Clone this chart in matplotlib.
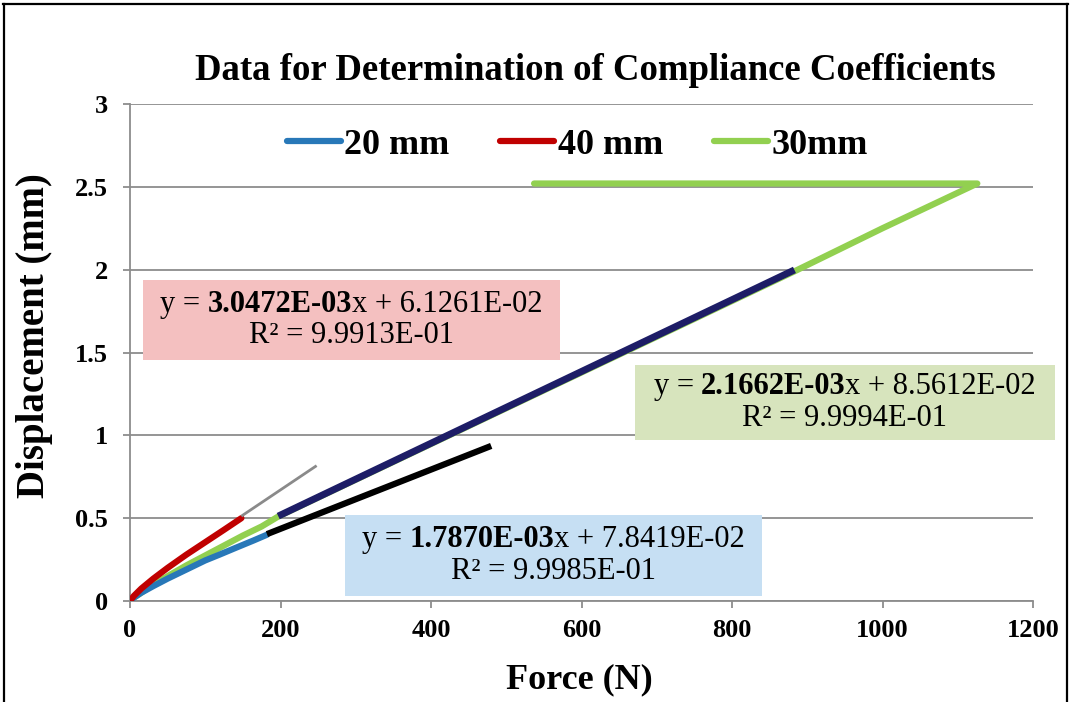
#!/usr/bin/env python3
"""Compliance coefficient data: displacement vs force with linear trendlines."""

import matplotlib
matplotlib.use('Agg')
import matplotlib.pyplot as plt
from matplotlib.lines import Line2D
from matplotlib.patches import Rectangle
from matplotlib.offsetbox import TextArea, HPacker, VPacker, AnnotationBbox
import numpy as np

plt.rcParams['font.family'] = ['Liberation Serif', 'DejaVu Serif']

# measured curves (force in N, displacement in mm)
force_20 = [0, 5, 15, 31, 50, 75, 100, 119, 140, 164, 182]
disp_20 = [0, 0.02, 0.05, 0.09, 0.135, 0.19, 0.245, 0.28, 0.32, 0.365, 0.40]

force_40 = [0, 5, 15, 31, 50, 75, 100, 125, 148]
disp_40 = [0, 0.03, 0.075, 0.135, 0.20, 0.28, 0.355, 0.43, 0.50]

force_30 = [0, 5, 15, 31, 50, 75, 100, 125, 150, 175, 197, 883, 1000, 1126, 537]
disp_30 = [0, 0.02, 0.05, 0.10, 0.15, 0.215, 0.275, 0.335, 0.395, 0.45, 0.51,
           1.99, 2.25, 2.52, 2.52]

# linear fits: slope, intercept, R^2, fitted force range
fit_20 = (1.7870e-03, 7.8419e-02, 9.9985e-01, (182, 480))
fit_40 = (3.0472e-03, 6.1261e-02, 9.9913e-01, (148, 248))
fit_30 = (2.1662e-03, 8.5612e-02, 9.9994e-01, (197, 883))

x_ticks = [0, 200, 400, 600, 800, 1000, 1200]
y_ticks = [0, 0.5, 1, 1.5, 2, 2.5, 3]

C_BLUE = '#2878b8'
C_RED = '#c00000'
C_GREEN = '#92d050'
GRID = '#8c8c8c'

fig = plt.figure(figsize=(10.71, 7.02), dpi=100)
ax = fig.add_axes([130 / 1071, 101 / 702, 903 / 1071, 497 / 702])

l20, = ax.plot(force_20, disp_20, color=C_BLUE, lw=4.5, label='20 mm', zorder=3, solid_capstyle='round')
l40, = ax.plot(force_40, disp_40, color=C_RED, lw=4.5, label='40 mm', zorder=3, solid_capstyle='round')
l30, = ax.plot(force_30, disp_30, color=C_GREEN, lw=4.5, label='30mm', zorder=2.5, solid_capstyle='round')

# trendlines drawn from the fitted coefficients
for (m, b, r2, (x0, x1)), col, lw in [(fit_20, 'black', 4.5), (fit_40, '#8a8a8a', 2),
                                     (fit_30, '#1d1d66', 5)]:
    xs = np.array([x0, x1])
    ax.plot(xs, m * xs + b, color=col, lw=lw, zorder=4, solid_capstyle='butt')

ax.set_xlim(0, 1200)
ax.set_ylim(0, 3)
ax.set_xticks(x_ticks)
ax.set_yticks(y_ticks)
ax.set_xticklabels([str(v) for v in x_ticks])
ax.set_yticklabels(['0', '0.5', '1', '1.5', '2', '2.5', '3'])
ax.yaxis.grid(True, color=GRID, lw=1.3)
ax.set_axisbelow(True)
for s in ['top', 'right']:
    ax.spines[s].set_visible(False)
for s in ['left', 'bottom']:
    ax.spines[s].set_color(GRID)
    ax.spines[s].set_linewidth(1.3)
ax.tick_params(axis='both', direction='out', color=GRID, length=5, width=1.3, labelsize=19)
ax.tick_params(axis='x', pad=8)
ax.tick_params(axis='y', pad=11)
for t in ax.get_xticklabels() + ax.get_yticklabels():
    t.set_fontweight('bold')

ax.set_xlabel('Force (N)', fontsize=26, fontweight='bold')
ax.set_ylabel('Displacement (mm)', fontsize=28, fontweight='bold')
ax.xaxis.set_label_coords(0.498, -0.125)
ax.yaxis.set_label_coords(-0.085, 0.535)

fig.text(0.556, 0.90, 'Data for Determination of Compliance Coefficients',
         fontsize=26.5, fontweight='bold', ha='center', va='center')

ax.legend(handles=[l20, l40, l30], ncol=3, loc='center', bbox_to_anchor=(0.539, 0.793),
          bbox_transform=fig.transFigure, frameon=False, handlelength=1.5,
          handletextpad=0.1, columnspacing=1.4, prop={'size': 26, 'weight': 'bold'})

# equation boxes: (fit, fill colour, box x-range, box y-range) in data units
boxes = [(fit_40, '#f4c0c0', (17, 571), (1.455, 1.938)),
         (fit_30, '#d7e4bd', (671, 1229), (0.972, 1.425)),
         (fit_20, '#c6dff3', (286, 840), (0.030, 0.519))]


def sci(v):
    e = int(np.floor(np.log10(abs(v))))
    return f'{v / 10**e:.4f}E-{abs(e):02d}'


for (m, b, r2, _), fc, (bx0, bx1), (by0, by1) in boxes:
    ax.add_patch(Rectangle((bx0, by0), bx1 - bx0, by1 - by0, facecolor=fc,
                           edgecolor='none', zorder=5, clip_on=False))
    fs = 22
    first = HPacker(children=[
        HPacker(children=[TextArea('y =', textprops=dict(fontsize=fs)),
                          TextArea(sci(m), textprops=dict(fontsize=fs, fontweight='bold'))],
                sep=5, pad=0),
        TextArea('x + ' + sci(b), textprops=dict(fontsize=fs))], sep=0, pad=0)
    second = TextArea('R\u00b2 = ' + sci(r2), textprops=dict(fontsize=fs))
    pack = VPacker(children=[first, second], align='center', sep=2, pad=0)
    ab = AnnotationBbox(pack, ((bx0 + bx1) / 2, (by0 + by1) / 2), frameon=False,
                        box_alignment=(0.5, 0.5), zorder=6, annotation_clip=False)
    ax.add_artist(ab)

# outer frame (top, left, right edges)
for xs, ys in [([0.003, 0.997], [0.994, 0.994]), ([0.004, 0.004], [0, 0.994]),
               ([0.996, 0.996], [0, 0.994])]:
    fig.add_artist(Line2D(xs, ys, color='black', lw=1.6, transform=fig.transFigure))

plt.savefig('out.png', dpi=100, facecolor='white')
plt.close()
